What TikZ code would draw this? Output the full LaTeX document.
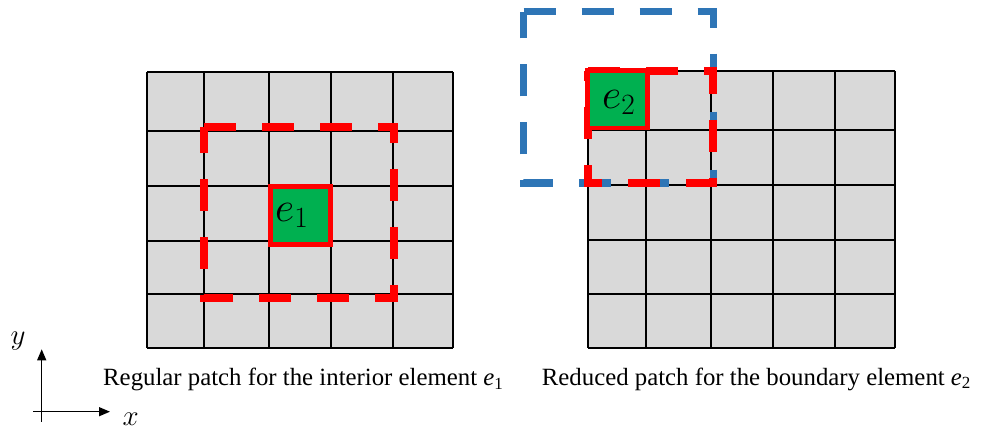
\RequirePackage{fix-cm}
\documentclass[tikz,border=0pt]{standalone}
\usepackage{fontspec}
\setmainfont{Liberation Serif}
\usetikzlibrary{arrows.meta}

\definecolor{cellgray}{HTML}{D9D9D9}
\definecolor{elemgreen}{HTML}{00B050}
\definecolor{patchred}{HTML}{FF0000}
\definecolor{patchblue}{HTML}{2E75B6}

\tikzset{
  gridline/.style={draw=black, line width=1.8pt},
  cellfill/.style={fill=cellgray},
  patchline/.style={line width=7.5pt, dash pattern=on 32pt off 26pt, line join=miter},
  redpatch/.style={patchline, draw=patchred},
  bluepatch/.style={patchline, draw=patchblue},
  elembox/.style={draw=patchred, fill=elemgreen, line width=4.7pt},
  elemlabel/.style={font=\fontsize{42}{42}\selectfont, inner sep=0pt, anchor=base west},
  caption/.style={font=\fontsize{24.8}{28}\selectfont, inner sep=0pt, anchor=base west},
  axisline/.style={line width=1.3pt, -{Triangle[length=11pt,width=9pt]}},
  axislabel/.style={font=\fontsize{29}{29}\selectfont, inner sep=0pt, anchor=base west}
}

\begin{document}
\begin{tikzpicture}[x=1pt, y=-1pt]
\useasboundingbox (0,0) rectangle (986,430);

% left mesh: 5 x 5 cells
\fill[cellfill] (147,72) rectangle (453,348);
\foreach \gx in {147,204,269,331,393,453}
  \draw[gridline] (\gx,72) -- (\gx,348);
\foreach \gy in {72,131,186,241,294,348}
  \draw[gridline] (147,\gy) -- (453,\gy);

% right mesh: 5 x 5 cells
\fill[cellfill] (588,71) rectangle (895,348);
\foreach \gx in {588,646,711,773,835,895}
  \draw[gridline] (\gx,71) -- (\gx,348);
\foreach \gy in {71,130,185,240,294,348}
  \draw[gridline] (588,\gy) -- (895,\gy);

% full patch around the boundary element (extends outside the mesh)
\draw[bluepatch] (523.5,11.7) -- (713.5,11.7) -- (713.5,183) -- (523.5,183) -- cycle;

% regular patch of the interior element
\draw[redpatch] (204,127) -- (394,127) -- (394,298) -- (204,298) -- cycle;

% reduced patch of the boundary element
\draw[redpatch] (588,71) -- (713,71) -- (713,183) -- (588,183) -- cycle;

% the two elements
\draw[elembox] (270.7,186.3) rectangle (330.3,244.3);
\node[elemlabel] (e1) at (275,221.7) {$e_1$};

\draw[elembox] (587.5,70.5) rectangle (647.5,128);
\node[elemlabel] (e2) at (602,108.3) {$e_2$};

% captions
\node[caption] (capL) at (103,385.7)
  {Regular patch for the interior element \textit{e}\raisebox{-0.3ex}{\fontsize{17}{17}\selectfont 1}};
\node[caption] (capR) at (541.7,385.3)
  {Reduced patch for the boundary element \textit{e}\raisebox{-0.3ex}{\fontsize{17}{17}\selectfont 2}};

% coordinate axes
\coordinate (ybot) at (41.7,421.7);
\coordinate (ytip) at (41.7,349.3);
\coordinate (xleft) at (33.3,411.7);
\coordinate (xtip) at (110,411.7);
\draw[axisline] (ybot) -- (ytip);
\draw[axisline] (xleft) -- (xtip);
\node[axislabel] (xlab) at (122.5,426) {$x$};
\node[axislabel] (ylab) at (10.5,345) {$y$};
\end{tikzpicture}
\end{document}
